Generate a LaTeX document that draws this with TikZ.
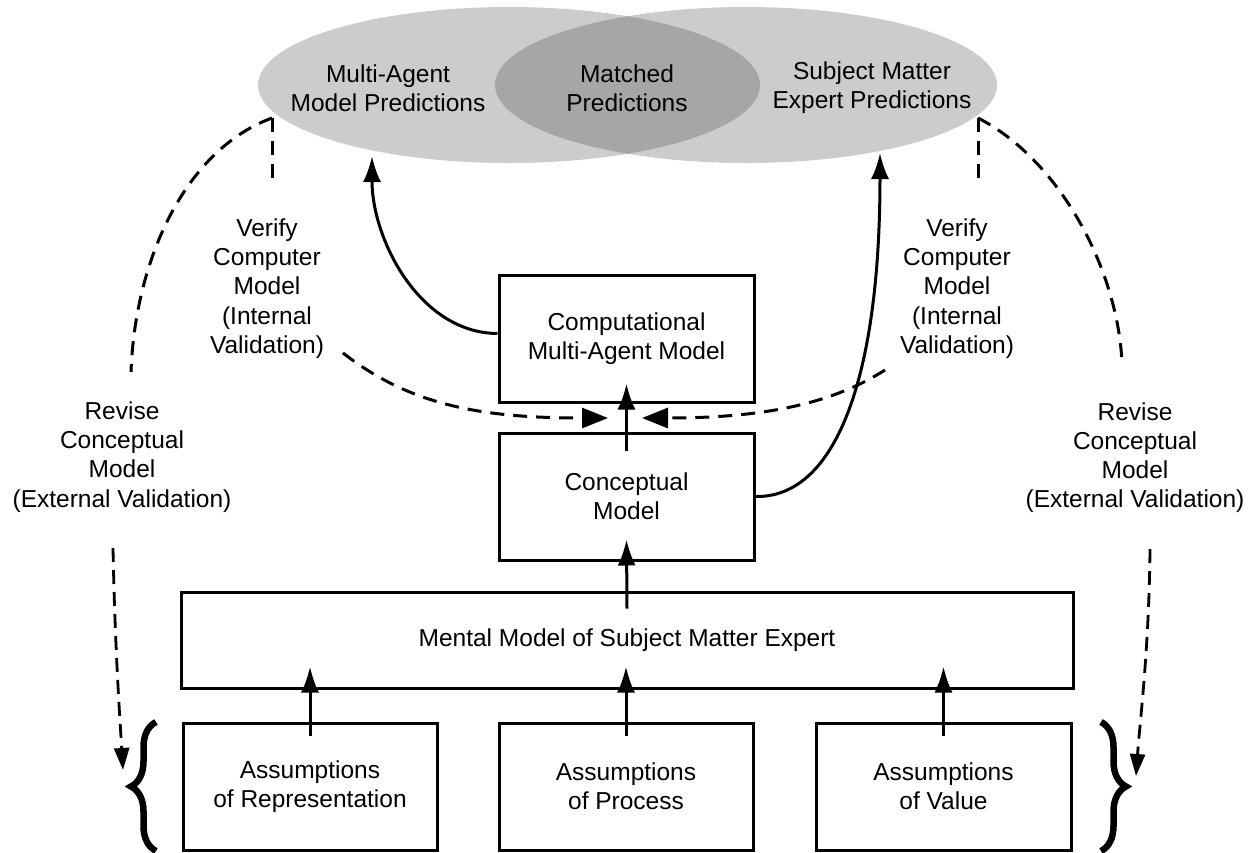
\documentclass[tikz,border=0pt]{standalone}
\usepackage{fontspec}
\setmainfont{Liberation Sans}
\usetikzlibrary{arrows.meta,decorations.pathreplacing,shapes.geometric}
\definecolor{ellgray}{RGB}{204,204,204}
\definecolor{lensgray}{RGB}{166,166,166}
\begin{document}
\begin{tikzpicture}[x=1pt,y=-1pt,
  txt/.style={font=\fontsize{24.5}{29.2}\selectfont, align=center, inner sep=0pt},
  boxnode/.style={draw, line width=3pt, minimum width=255pt, minimum height=127pt, txt},
  ell/.style={ellipse, minimum width=502pt, minimum height=156pt, inner sep=0pt, fill=ellgray},
  solidarr/.style={line width=3pt, -{Latex[length=26pt,width=18pt]}},
  dashline/.style={line width=3pt, dash pattern=on 14pt off 9pt},
  dasharr/.style={dashline, -{Triangle[length=26pt,width=20pt]}},
  smalldasharr/.style={line width=2.8pt, dash pattern=on 14pt off 8pt, -{Triangle[length=22pt,width=15pt]}},
  bracestyle/.style={line width=6.5pt, decorate, decoration={brace, amplitude=25pt}}
]
\useasboundingbox (0,0) rectangle (1256,852);

% ellipses
\node[ell] (mapred) at (509,85) {};
\node[ell] (smepred) at (746,85) {};
\begin{scope}
  \clip (509,85) ellipse [x radius=251, y radius=78];
  \fill[lensgray] (746,85) ellipse [x radius=251, y radius=78];
\end{scope}
\node[txt] (matxt) at (388,88) {Multi-Agent\\Model Predictions};
\node[txt] (midtxt) at (627,88) {Matched\\Predictions};
\node[txt] (smetxt) at (872,88) {Subject Matter\\Expert Predictions};

% boxes
\node[boxnode] (comp) at (626.5,338.5) {Computational\\Multi-Agent Model};
\node[boxnode] (concept) at (626.5,496.5) {Conceptual\\Model};
\node[boxnode, minimum width=892pt, minimum height=96pt] (mental) at (627,640) {Mental Model of Subject Matter Expert};
\node[boxnode, minimum width=254pt] (rep) at (310,786.5) {Assumptions\\of Representation};
\node[boxnode, minimum width=254pt] (proc) at (626,786.5) {Assumptions\\of Process};
\node[boxnode] (val) at (943.5,786.5) {Assumptions\\of Value};

% side labels
\node[txt] (verL) at (267,288.5) {Verify\\Computer\\Model\\(Internal\\Validation)};
\node[txt] (verR) at (957,288.5) {Verify\\Computer\\Model\\(Internal\\Validation)};
\node[txt] (revL) at (122,457) {Revise\\Conceptual\\Model\\(External Validation)};
\node[txt] (revR) at (1135,457.5) {Revise\\Conceptual\\Model\\(External Validation)};

% coordinates
\coordinate (tipL) at (372,156);
\coordinate (tipR) at (880,153);
\coordinate (vL) at (272,118);
\coordinate (vR) at (978,118);
\coordinate (vLb) at (272,187);
\coordinate (vRb) at (978,183);
\coordinate (revLend) at (131,372);
\coordinate (revRend) at (1122,363);
\coordinate (verLout) at (343,353);
\coordinate (verRout) at (885,370);
\coordinate (tipCL) at (608,418);
\coordinate (tipCR) at (642,418);
\coordinate (downLs) at (113,548);
\coordinate (downLt) at (123,770);
\coordinate (downRs) at (1150,549);
\coordinate (downRt) at (1136,776);

% vertical solid arrows
\draw[solidarr] ([yshift=-19pt]concept.north) -- ([yshift=20pt]comp.south);
\draw[solidarr] ([yshift=-18pt]mental.north) -- ([yshift=22pt]concept.south);
\draw[solidarr] ([yshift=-14pt]proc.north) -- ([yshift=23pt]mental.south-|proc.north);
\draw[solidarr] ([yshift=-14pt]rep.north) -- ([yshift=23pt]mental.south-|rep.north);
\draw[solidarr] ([yshift=-14pt]val.north) -- ([yshift=23pt]mental.south-|val.north);

% curved solid arrows to ellipses
\draw[solidarr] ([yshift=5pt]comp.west) .. controls (420,333) and (372,240) .. (tipL);
\draw[solidarr] (concept.east) .. controls (835,498) and (880,380) .. (tipR);

% dashed lines
\draw[dashline] (vL) -- (vLb);
\draw[dashline] (vR) -- (vRb);
\draw[dashline] (vL) .. controls (185,150) and (135,260) .. (revLend);
\draw[dashline] (vR) .. controls (1060,160) and (1118,270) .. (revRend);
\draw[dasharr] (verLout) .. controls (410,405) and (480,418) .. (tipCL);
\draw[dasharr] (verRout) .. controls (830,405) and (760,418) .. (tipCR);
\draw[smalldasharr] (downLs) .. controls (115,650) and (120,720) .. (downLt);
\draw[smalldasharr] (downRs) .. controls (1149,650) and (1140,720) .. (downRt);

% braces
\draw[bracestyle] (156,851) -- (156,722);
\draw[bracestyle] (1101,722) -- (1101,851);
\end{tikzpicture}
\end{document}
